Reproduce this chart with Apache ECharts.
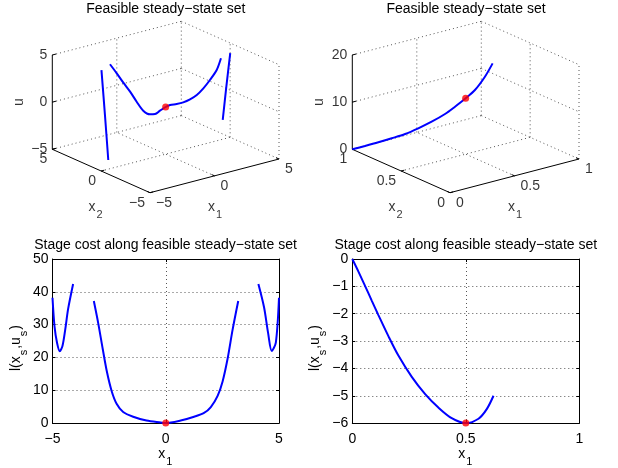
<!DOCTYPE html>
<html><head><meta charset="utf-8">
<script src="https://cdn.jsdelivr.net/npm/echarts@6/dist/echarts.min.js"></script>
<style>html,body{margin:0;padding:0;background:#fff}#c{width:618px;height:468px}</style>
</head><body><div id="c"></div>
<script>
// ---------------- DATA ----------------
// Top-left: feasible steady-state set (x1, x2, u)
const p1MainX1 = [-3.13,-2.75,-2.38,-2.0,-1.63,-1.26,-0.88,-0.6,-0.32,0,0.25,0.62,0.99,1.37,1.75,2.12,2.49,2.87,3.11];
const p1MainX2 = [1.565,1.375,1.19,1.0,0.815,0.63,0.44,0.3,0.16,0,-0.125,-0.31,-0.495,-0.685,-0.875,-1.06,-1.245,-1.435,-1.555];
const p1MainU  = [4.93,3.92,2.88,1.88,0.77,-0.23,-0.66,-0.67,-0.35,0,0.18,0.24,0.37,0.64,1.05,1.71,2.55,3.56,4.77];
const p1LeftX1 = [-4.09,-4.5,-5];
const p1LeftX2 = [1.17,0.27,-0.73];
const p1LeftU  = [4.84,0.63,-3.5];
const p1RightX1 = [4.09,4.5,5];
const p1RightX2 = [-1.21,-0.27,0.76];
const p1RightU  = [4.8,0.67,-3.5];
const p1Opt = [0,0,0];
const p1TicksX1 = [-5,0,5], p1TicksX2 = [-5,0,5], p1TicksU = [-5,0,5];

// Top-right
const p2X1 = [0,0.056,0.115,0.174,0.233,0.291,0.35,0.409,0.453,0.5,0.541,0.585,0.619];
const p2X2 = [1,0.944,0.885,0.826,0.767,0.709,0.65,0.591,0.547,0.5,0.459,0.415,0.381];
const p2U  = [0,0.82,1.72,2.69,3.72,5.05,6.57,8.33,9.97,11.85,13.69,16.6,19.5];
const p2Opt = [0.5,0.5,11.85];
const p2TicksX1 = [0,0.5,1], p2TicksX2 = [0,0.5,1], p2TicksU = [0,10,20];

// Bottom-left: stage cost along feasible steady-state set
const c1SegAx = [-5,-4.91,-4.80,-4.68,-4.56,-4.44,-4.31,-4.09];
const c1SegAy = [38.2,29.4,24.5,21.9,23.5,28.4,34.8,42.4];
const c1SegBx = [-3.175,-2.98,-2.78,-2.60,-2.39,-2.17,-1.88,-1.44,-0.85,-0.22,0,0.66,1.25,1.69,1.99,2.29,2.51,2.73,2.95,3.20];
const c1SegBy = [37.2,30.4,22.5,15.7,9.8,5.9,3.4,1.95,0.78,0.18,0,0.78,1.95,3.1,4.9,8.3,12.7,19.6,28.4,37.2];
const c1SegCx = [4.09,4.34,4.52,4.68,4.86,5.0];
const c1SegCy = [42.4,35.3,27.4,22.0,24.5,38.2];
const c1Opt = [0,0];
const c1TicksX = [-5,0,5];
const c1TicksY = [0,10,20,30,40,50];

// Bottom-right
const c2X = [0,0.0265,0.056,0.0856,0.115,0.159,0.203,0.262,0.321,0.379,0.438,0.5,0.556,0.593,0.622];
const c2Y = [0,-0.45,-0.98,-1.52,-2.05,-2.82,-3.53,-4.31,-4.94,-5.43,-5.82,-6,-5.84,-5.48,-5.0];
const c2Opt = [0.5,-6];
const c2TicksX = [0,0.5,1];
const c2TicksY = [-6,-5,-4,-3,-2,-1,0];

const titleTop = 'Feasible steady\u2212state set';
const titleBottom = 'Stage cost along feasible steady\u2212state set';

// ---------------- STYLE / LAYOUT ----------------
const FONT = "'Liberation Sans', Arial, Helvetica, sans-serif";
const BLUE = '#0000ff', RED = '#ff0000';
const rich = {
  m: {fontSize: 14, fontFamily: FONT, color: '#000', verticalAlign: 'top', lineHeight: 15},
  s: {fontSize: 11, fontFamily: FONT, color: '#000', verticalAlign: 'top', lineHeight: 12, padding: [9,1,0,1]}
};
const fmt = v => (v < 0 ? '\u2212' + (-v) : String(v));
const zip = (a, b) => a.map((v, i) => [v, b[i]]);

const EX = [129,-33.7], EY = [-97.7,-43.4], EZ = [0,-94.3];
const panels3d = [
  {o: [150,192.7], rx: [-5,5], ry: [-5,5], rz: [-5,5], tx: p1TicksX1, ty: p1TicksX2, tz: p1TicksU,
   curves: [[p1LeftX1,p1LeftX2,p1LeftU],[p1MainX1,p1MainX2,p1MainU],[p1RightX1,p1RightX2,p1RightU]], opt: p1Opt},
  {o: [450,192.7], rx: [0,1], ry: [0,1], rz: [0,20], tx: p2TicksX1, ty: p2TicksX2, tz: p2TicksU,
   curves: [[p2X1,p2X2,p2U]], opt: p2Opt}
];

const series = [];
const PIX = {xAxisIndex: 4, yAxisIndex: 4};

panels3d.forEach(P => {
  const pn = (a,b,c) => [P.o[0] + a*EX[0] + b*EY[0] + c*EZ[0], P.o[1] + a*EX[1] + b*EY[1] + c*EZ[1]];
  const na = v => (v - P.rx[0])/(P.rx[1]-P.rx[0]);
  const nb = v => (v - P.ry[0])/(P.ry[1]-P.ry[0]);
  const nc = v => (v - P.rz[0])/(P.rz[1]-P.rz[0]);
  const pr = (x1,x2,u) => pn(na(x1), nb(x2), nc(u));
  const dotted = [], solid = [], ticks = [];
  // back wall x2 = max
  P.tz.forEach(t => dotted.push([pn(0,1,nc(t)), pn(1,1,nc(t))]));
  P.tx.forEach(t => { if (na(t) > 0) dotted.push([pn(na(t),1,0), pn(na(t),1,1)]); });
  // side wall x1 = max
  P.tz.forEach(t => dotted.push([pn(1,1,nc(t)), pn(1,0,nc(t))]));
  P.ty.forEach(t => { if (nb(t) < 1) dotted.push([pn(1,nb(t),0), pn(1,nb(t),1)]); });
  // floor
  P.tx.forEach(t => { if (na(t) > 0 && na(t) < 1) dotted.push([pn(na(t),0,0), pn(na(t),1,0)]); });
  P.ty.forEach(t => { if (nb(t) > 0 && nb(t) < 1) dotted.push([pn(0,nb(t),0), pn(1,nb(t),0)]); });
  // solid axes
  solid.push([pn(0,1,0), pn(0,1,1)]);
  solid.push([pn(0,1,0), pn(0,0,0)]);
  solid.push([pn(0,0,0), pn(1,0,0)]);
  P.tz.forEach(t => ticks.push([pn(0,1,nc(t)), pn(0.03,1,nc(t))]));
  P.ty.forEach(t => ticks.push([pn(0,nb(t),0), pn(0.025,nb(t),0)]));
  P.tx.forEach(t => ticks.push([pn(na(t),0,0), pn(na(t),0.03,0)]));
  series.push({type:'lines', coordinateSystem:'cartesian2d', ...PIX, polyline:true, silent:true, z:1,
    data: dotted.map(c => ({coords:c})), lineStyle:{color:'#555', width:1, type:[1,3], opacity:1}});
  series.push({type:'lines', coordinateSystem:'cartesian2d', ...PIX, polyline:true, silent:true, z:2,
    data: solid.concat(ticks).map(c => ({coords:c})), lineStyle:{color:'#000', width:1, opacity:1}});
  P.curves.forEach(cv => {
    series.push({type:'line', ...PIX, smooth:0.3, showSymbol:false, silent:true, z:3,
      data: cv[0].map((v,i) => pr(v, cv[1][i], cv[2][i])), lineStyle:{color:BLUE, width:2}});
  });
  series.push({type:'scatter', ...PIX, symbolSize:7, silent:true, z:4, itemStyle:{color:RED},
    data:[pr(P.opt[0], P.opt[1], P.opt[2])]});
  // tick labels & names
  const lab = [];
  const mk = (pt, text, align, off, extra) => ({value: pt, label: Object.assign({show:true, formatter:text, position:'inside',
    align: align, verticalAlign:'middle', offset: off, fontSize:14, fontFamily:FONT, color:'#000', rich: rich}, extra || {})});
  P.tz.forEach(t => lab.push(mk(pn(0,1,nc(t)), fmt(t), 'right', [-5,0])));
  P.ty.forEach(t => lab.push(mk(pn(0,nb(t),0), fmt(t), 'right', [-5,10])));
  P.tx.forEach(t => lab.push(mk(pn(na(t),0,0), fmt(t), 'left', [6,10])));
  lab.push(mk(pn(0,1,0.5), 'u', 'center', [0,-33], {rotate:90}));
  lab.push(mk(pn(0,0.5,0), '{m|x}{s|2}', 'center', [-5,37]));
  lab.push(mk(pn(0.5,0,0), '{m|x}{s|1}', 'center', [1,32]));
  series.push({type:'scatter', ...PIX, symbolSize:1, silent:true, z:5, itemStyle:{color:'rgba(0,0,0,0)'}, data: lab});
});

// bottom 2D charts
const lineS = (xi, yi, d) => ({type:'line', xAxisIndex:xi, yAxisIndex:yi, data:d, smooth:0.3, showSymbol:false,
  silent:true, lineStyle:{color:BLUE, width:2}, z:3});
series.push(lineS(0,0,zip(c1SegAx,c1SegAy)), lineS(0,0,zip(c1SegBx,c1SegBy)), lineS(0,0,zip(c1SegCx,c1SegCy)));
series.push({type:'scatter', xAxisIndex:0, yAxisIndex:0, data:[c1Opt], symbolSize:7, itemStyle:{color:RED}, z:4, silent:true});
series.push(lineS(2,2,zip(c2X,c2Y)));
series.push({type:'scatter', xAxisIndex:2, yAxisIndex:2, data:[c2Opt], symbolSize:7, itemStyle:{color:RED}, z:4, silent:true});

const axLine = {show:true, onZero:false, lineStyle:{color:'#000', width:1}};
const axTick = {show:true, inside:true, length:3, lineStyle:{color:'#000'}};
const axLab = m => ({show:true, fontSize:14, fontFamily:FONT, color:'#000', margin:m, formatter:fmt});
const split = {show:true, lineStyle:{color:'#555', width:1, type:[1,3]}};
const ylabName = '{m|l(x}{s|s}{m|,u}{s|s}{m|)}';

function xAx(grid, ticks, main) {
  const iv = ticks[1]-ticks[0];
  return {type:'value', gridIndex:grid, min:ticks[0], max:ticks[ticks.length-1], interval:iv, position: main?'bottom':'top',
    axisLine:axLine, axisTick:axTick, axisLabel: main ? axLab(9) : {show:false}, splitLine: main ? split : {show:false},
    name: main ? '{m|x}{s|1}' : '', nameLocation:'middle', nameGap:18, nameTextStyle:{rich:rich}};
}
function yAx(grid, ticks, main) {
  const iv = ticks[1]-ticks[0];
  return {type:'value', gridIndex:grid, min:ticks[0], max:ticks[ticks.length-1], interval:iv, position: main?'left':'right',
    axisLine:axLine, axisTick:axTick, axisLabel: main ? axLab(4) : {show:false}, splitLine: main ? split : {show:false},
    name: main ? ylabName : '', nameLocation:'middle', nameGap:24, nameRotate:90,
    nameTextStyle:{rich:rich, padding:[0,14,0,0]}};
}

const option = {
  animation:false,
  backgroundColor:'#fff',
  grid:[
    {left:52.5, top:259, width:226.5, height:169.3},
    {left:352.3, top:259, width:227, height:169.3},
    {left:0, top:0, width:618, height:468}
  ],
  xAxis:[xAx(0,c1TicksX,true), xAx(0,c1TicksX,false), xAx(1,c2TicksX,true), xAx(1,c2TicksX,false),
    {type:'value', gridIndex:2, min:0, max:618, show:false}],
  yAxis:[yAx(0,c1TicksY,true), yAx(0,c1TicksY,false), yAx(1,c2TicksY,true), yAx(1,c2TicksY,false),
    {type:'value', gridIndex:2, min:0, max:468, inverse:true, show:false}],
  graphic:[
    {type:'text', x:165.8, y:9, style:{text:titleTop, fontSize:14, fontFamily:FONT, fill:'#000', align:'center', verticalAlign:'middle'}},
    {type:'text', x:466, y:9, style:{text:titleTop, fontSize:14, fontFamily:FONT, fill:'#000', align:'center', verticalAlign:'middle'}},
    {type:'text', x:165.5, y:245.5, style:{text:titleBottom, fontSize:14, fontFamily:FONT, fill:'#000', align:'center', verticalAlign:'middle'}},
    {type:'text', x:465.8, y:245.5, style:{text:titleBottom, fontSize:14, fontFamily:FONT, fill:'#000', align:'center', verticalAlign:'middle'}}
  ],
  series: series
};
const chart = echarts.init(document.getElementById('c'), null, {renderer:'canvas'});
chart.setOption(option);
</script></body></html>
